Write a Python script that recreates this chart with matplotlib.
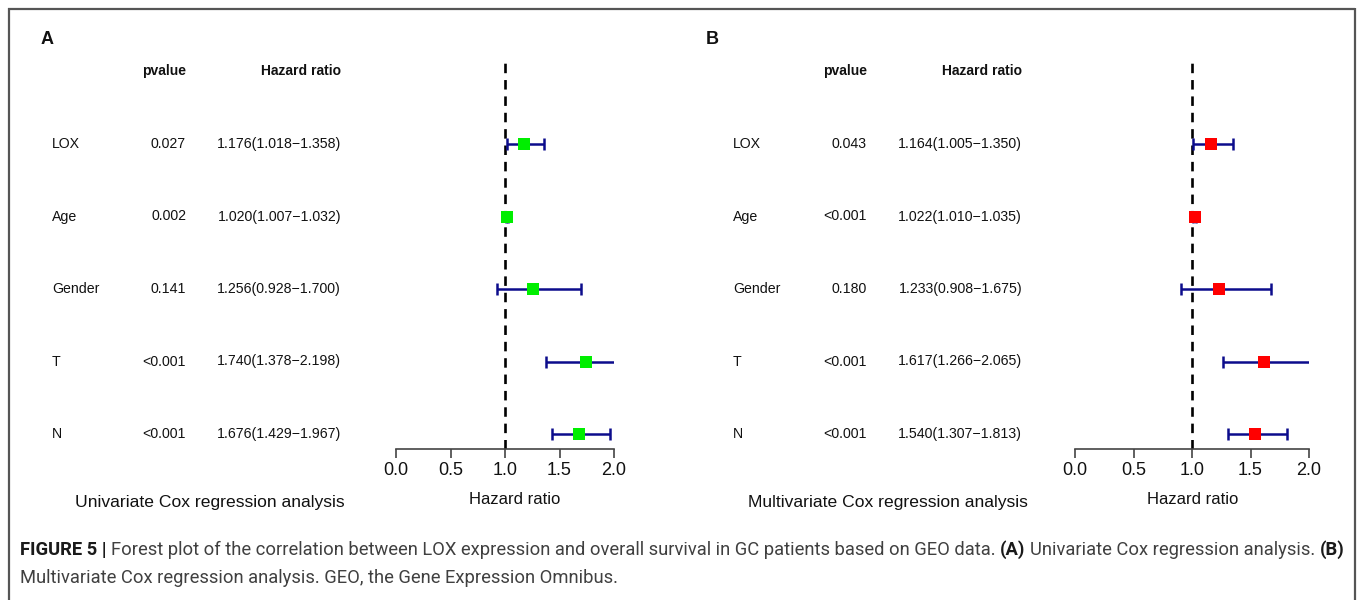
import matplotlib
matplotlib.use("Agg")
import matplotlib.pyplot as plt
from matplotlib import font_manager
from matplotlib.transforms import blended_transform_factory
from matplotlib.lines import Line2D
import numpy as np

plt.rcParams['font.family'] = ['Liberation Sans', 'DejaVu Sans']

# ---------------- data ----------------
variables = ["LOX", "Age", "Gender", "T", "N"]

uni_p = ["0.027", "0.002", "0.141", "<0.001", "<0.001"]
uni_hr = [1.176, 1.020, 1.256, 1.740, 1.676]
uni_lo = [1.018, 1.007, 0.928, 1.378, 1.429]
uni_hi = [1.358, 1.032, 1.700, 2.198, 1.967]

multi_p = ["0.043", "<0.001", "0.180", "<0.001", "<0.001"]
multi_hr = [1.164, 1.022, 1.233, 1.617, 1.540]
multi_lo = [1.005, 1.010, 0.908, 1.266, 1.307]
multi_hi = [1.350, 1.035, 1.675, 2.065, 1.813]

xticks = [0.0, 0.5, 1.0, 1.5, 2.0]

W, H = 1357, 600
fig = plt.figure(figsize=(W / 100, H / 100), dpi=100)
fig.patch.set_facecolor("white")


def fx(px):
    return px / W


def fy(py):
    return 1 - py / H


ROW_PX = 72.5
Y_ROWS = np.array([5, 4, 3, 2, 1], dtype=float)
AXIS_PX = 449
TOP_PX = 62
ROW0_PX = 144
y_bottom = 1 - (AXIS_PX - (ROW0_PX + 4 * ROW_PX)) / ROW_PX
y_top = 5 + (ROW0_PX - TOP_PX) / ROW_PX


def panel(letter, letter_x, x0px, x2px, label_x, p_right, hr_right, title, title_cx,
          xlab_cx, hr, lo, hi, pvals, color):
    ax = fig.add_axes([fx(x0px), fy(AXIS_PX), fx(x2px - x0px), (AXIS_PX - TOP_PX) / H])
    ax.set_xlim(0, 2)
    ax.set_ylim(y_bottom, y_top)
    hr = np.array(hr); lo = np.array(lo); hi = np.array(hi)
    ax.axvline(1.0, color="black", lw=1.9, dashes=(3.6, 2.6), zorder=1)
    ax.errorbar(hr, Y_ROWS, xerr=[hr - lo, hi - hr], fmt="none", ecolor="#0c0c8c",
                elinewidth=1.8, capsize=4.4, capthick=1.8, zorder=2)
    ax.plot(hr, Y_ROWS, "s", color=color, ms=9.3, mec=color, mew=0, zorder=3)
    for s in ["top", "right", "left"]:
        ax.spines[s].set_visible(False)
    ax.spines["bottom"].set_bounds(0, 2)
    ax.spines["bottom"].set_color("#444444")
    ax.spines["bottom"].set_linewidth(1.2)
    ax.set_yticks([])
    ax.set_xticks(xticks)
    ax.set_xticklabels([f"{t:.1f}" for t in xticks])
    ax.tick_params(axis="x", direction="out", length=6.5, width=1.2, color="#444444",
                   labelsize=13, pad=3, labelcolor="#111111")
    ax.patch.set_alpha(0)

    tr = blended_transform_factory(fig.transFigure, ax.transData)
    hdr_y = 5 + (ROW0_PX - 71) / ROW_PX
    ax.text(fx(p_right), hdr_y, "pvalue", transform=tr, ha="right", va="center",
            fontsize=10, fontweight="bold", color="#111111")
    ax.text(fx(hr_right), hdr_y, "Hazard ratio", transform=tr, ha="right", va="center",
            fontsize=10, fontweight="bold", color="#111111")
    for i, v in enumerate(variables):
        ax.text(fx(label_x), Y_ROWS[i], v, transform=tr, ha="left", va="center",
                fontsize=10.2, color="#111111")
        ax.text(fx(p_right), Y_ROWS[i], pvals[i], transform=tr, ha="right", va="center",
                fontsize=10.2, color="#111111")
        s = f"{hr[i]:.3f}({lo[i]:.3f}\u2212{hi[i]:.3f})"
        ax.text(fx(hr_right), Y_ROWS[i], s, transform=tr, ha="right", va="center",
                fontsize=10.2, color="#111111")

    fig.text(fx(letter_x), fy(39), letter, ha="left", va="center", fontsize=13,
             fontweight="bold", color="#111111")
    fig.text(fx(title_cx), fy(502), title, ha="center", va="center", fontsize=12.6,
             color="#111111")
    fig.text(fx(xlab_cx), fy(500), "Hazard ratio", ha="center", va="center",
             fontsize=12, color="#111111")
    return ax


panel("A", 41, 396, 614, 52, 186, 341, "Univariate Cox regression analysis", 210, 515,
      uni_hr, uni_lo, uni_hi, uni_p, "#00ee00")
panel("B", 706, 1075, 1309, 733, 867, 1022, "Multivariate Cox regression analysis", 888, 1193,
      multi_hr, multi_lo, multi_hi, multi_p, "#ff0000")

# ---------------- frame ----------------
frame_col = "#555555"
fig.add_artist(Line2D([fx(8), fx(1355)], [fy(8.5), fy(8.5)], transform=fig.transFigure,
                      color=frame_col, lw=1.6, solid_capstyle="butt"))
fig.add_artist(Line2D([fx(8.5), fx(8.5)], [fy(8), fy(600)], transform=fig.transFigure,
                      color=frame_col, lw=1.6, solid_capstyle="butt"))
fig.add_artist(Line2D([fx(1354.5), fx(1354.5)], [fy(8), fy(600)], transform=fig.transFigure,
                      color=frame_col, lw=1.6, solid_capstyle="butt"))

# ---------------- caption ----------------
available = set(f.name for f in font_manager.fontManager.ttflist)
cap_family = ["Liberation Sans"]
for cand in ["Roboto", "Liberation Sans"]:
    if cand in available:
        cap_family = [cand, "Liberation Sans"]
        break

line1 = [("FIGURE 5 |", True),
         ("Forest plot of the correlation between LOX expression and overall survival in GC patients based on GEO data.", False),
         ("(A)", True), ("Univariate Cox regression analysis.", False), ("(B)", True)]
line2 = [("Multivariate Cox regression analysis. GEO, the Gene Expression Omnibus.", False)]

renderer = fig.canvas.get_renderer()


def run_width(text, bold, size):
    t = fig.text(0, 0, text, fontsize=size, family=cap_family,
                 fontweight="bold" if bold else "normal")
    w = t.get_window_extent(renderer).width
    t.remove()
    return w


def space_width(size):
    return run_width("a a", False, size) - run_width("aa", False, size)


base = 12.0
nat = sum(run_width(t, b, base) for t, b in line1) + space_width(base) * (len(line1) - 1)
cap_size = base * (1343 - 20) / nat


def draw_line(runs, y_px, size):
    x = 20
    sp = space_width(size)
    for t, b in runs:
        fig.text(fx(x), fy(y_px), t, fontsize=size, family=cap_family,
                 fontweight="bold" if b else "normal",
                 color="#1a1a1a" if b else "#404040", ha="left", va="baseline")
        x += run_width(t, b, size) + sp


draw_line(line1, 555, cap_size)
draw_line(line2, 583, cap_size)

fig.savefig("out.png", dpi=100, facecolor="white")
